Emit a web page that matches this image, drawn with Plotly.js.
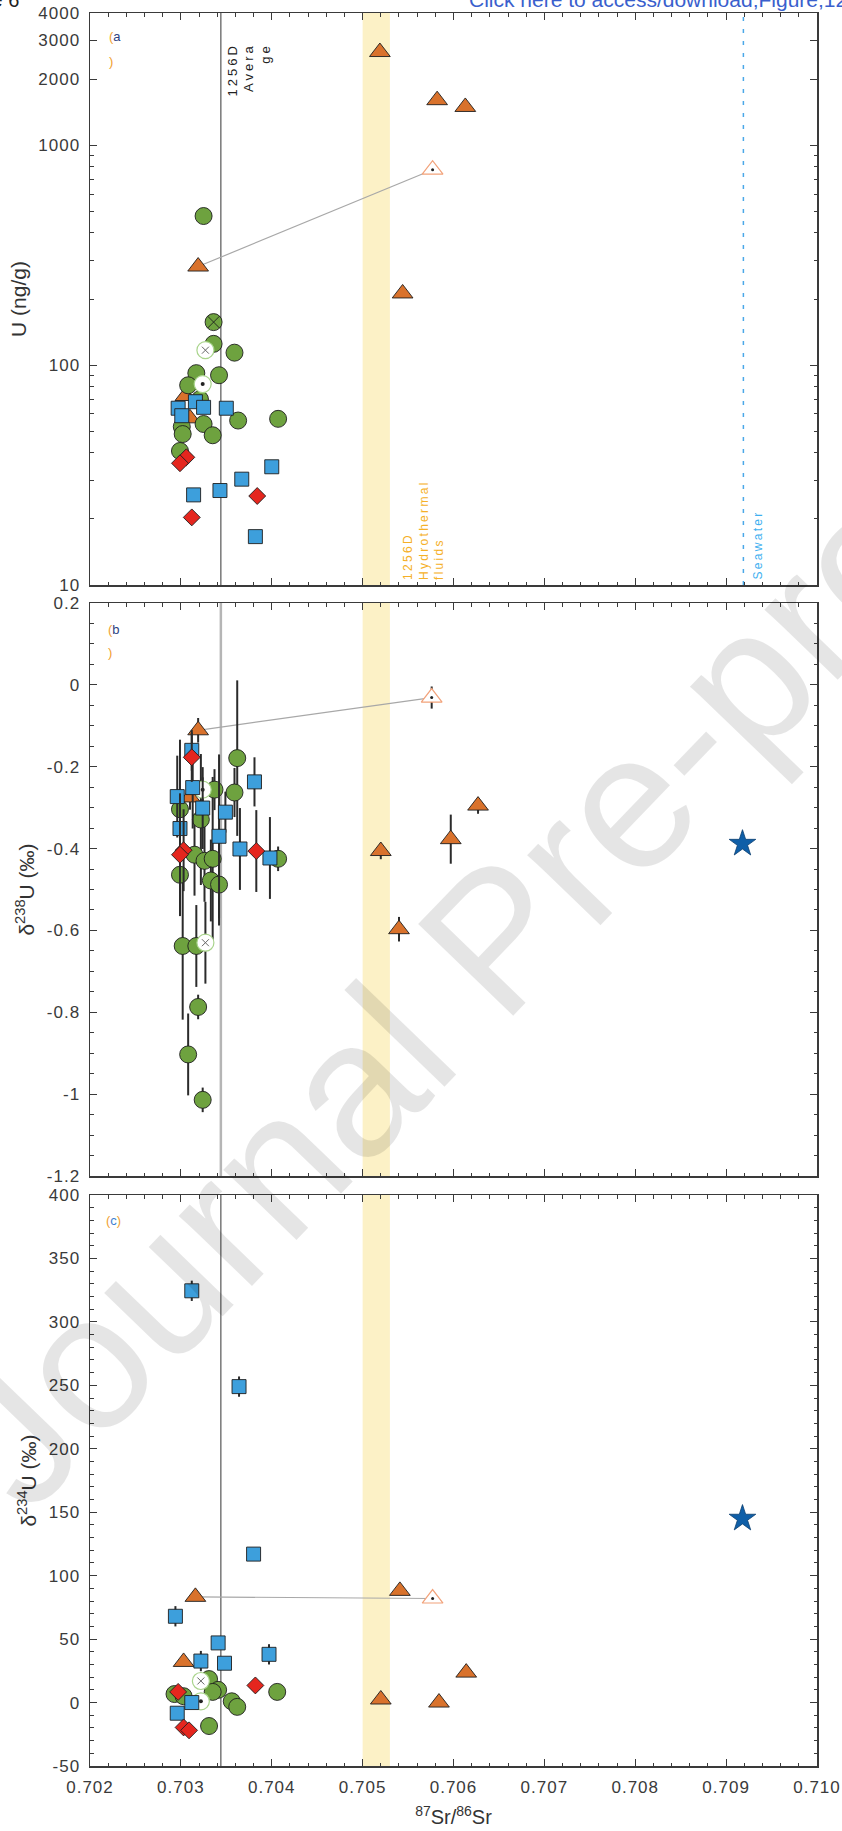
<!DOCTYPE html>
<html><head><meta charset="utf-8">
<script src="https://cdn.plot.ly/plotly-3.0.1.min.js"></script>
<style>html,body{margin:0;padding:0;background:#fff}#chart{width:842px;height:1831px}</style>
</head><body><div id="chart"></div>
<script>
// ---------- reference values ----------
const band1256DFluids = [0.7050, 0.7053];
const avg1256D = 0.70344;
const seawaterSr = 0.70919;

// ---------- panel (a): U (ng/g) ----------
const aGreenSr = [0.70325,0.70336,0.70359,0.70317,0.70342,0.70308,0.70321,0.70363,0.70407,0.70325,0.70301,0.70302,0.70335,0.70299];
const aGreenU  = [477,125,114,92,90,81,70,56,57,54,52.5,48.6,48,40.7];
const aGreenXSr = [0.70336]; const aGreenXU = [157];
const aOpenXSr = [0.70327]; const aOpenXU = [117];
const aOpenDotSr = [0.70324]; const aOpenDotU = [82];
const aDotSr = [0.70321]; const aDotU = [70];
const aBlueSr = [0.70297,0.70301,0.70316,0.70325,0.70350,0.70400,0.70367,0.70343,0.70314,0.70382];
const aBlueU  = [63.7,58.9,68.2,64.3,63.7,34.5,30.3,26.9,25.7,16.6];
const aRedSr = [0.70306,0.70299,0.70384,0.70312];
const aRedU  = [38.1,35.8,25.4,20.3];
const aOrangeSr = [0.70319,0.70305,0.70310,0.70519,0.70582,0.70613,0.70544];
const aOrangeU  = [281,72.4,57.3,2658,1605,1495,212];
const aOpenTriSr = [0.70577]; const aOpenTriU = [775];
const aTicks = [10,100,1000,2000,3000,4000];
const aMinorTicks = [20,30,40,50,60,70,80,90,200,300,400,500,600,700,800,900];

// ---------- panel (b): d238U ----------
const bGreenSr = [0.70362,0.70359,0.70337,0.70299,0.70322,0.70315,0.70326,0.70335,0.70299,0.70333,0.70342,0.70407,0.70302,0.70317,0.70319,0.70308,0.70324];
const bGreenD  = [-0.179,-0.263,-0.256,-0.304,-0.329,-0.415,-0.43,-0.425,-0.464,-0.478,-0.488,-0.425,-0.638,-0.638,-0.787,-0.903,-1.014];
const bGreenErr= [0.19,0.06,0.05,0.17,0.16,0.1,0.1,0.2,0.1,0.1,0.1,0.03,0.18,0.1,0.03,0.1,0.03];
const bBlueSr = [0.70312,0.70296,0.70299,0.70313,0.70324,0.70349,0.70342,0.70365,0.70381,0.70398];
const bBlueD  = [-0.16,-0.273,-0.351,-0.251,-0.301,-0.311,-0.370,-0.401,-0.237,-0.423];
const bBlueErr= [0.05,0.1,0.05,0.1,0.1,0.05,0.2,0.1,0.06,0.1];
const bRedSr = [0.70312,0.70303,0.70299,0.70383];
const bRedD  = [-0.177,-0.404,-0.415,-0.406];
const bRedErr= [0.06,0.1,0.15,0.1];
const bOrangeSr = [0.70319,0.70310,0.70520,0.70540,0.70597,0.70627];
const bOrangeD  = [-0.111,-0.275,-0.406,-0.597,-0.377,-0.295];
const bOrangeErr= [0.03,0.03,0.02,0.03,0.06,0.02];
const bOpenTriSr = [0.70576]; const bOpenTriD = [-0.031]; const bOpenTriErr = [0.027];
const bOpenXSr = [0.70327]; const bOpenXD = [-0.63]; const bOpenXErr = [0.1];
const bOpenDotSr = [0.70324]; const bOpenDotD = [-0.256]; const bOpenDotErr = [0.03];
const bStarSr = [0.70918]; const bStarD = [-0.388];
const bTicks = [0.2,0,-0.2,-0.4,-0.6,-0.8,-1,-1.2];

// ---------- panel (c): d234U ----------
const cBlueSr = [0.70312,0.70364,0.70380,0.70294,0.70341,0.70322,0.70348,0.70397,0.70312,0.70296];
const cBlueD  = [324.5,249,117,68,47,32.7,31,38,0,-8.4];
const cBlueErr= [8,8,3,8,3,8,3,8,3,3];
const cOrangeSr = [0.70316,0.70303,0.70520,0.70541,0.70584,0.70614];
const cOrangeD  = [83.3,32,2.4,88,0,23.6];
const cOpenTriSr = [0.70577]; const cOpenTriD = [82];
const cRedSr = [0.70297,0.70303,0.70309,0.70382];
const cRedD  = [8.4,-19.6,-21.9,13.5];
const cGreenSr = [0.70293,0.70303,0.70331,0.70341,0.70335,0.70356,0.70362,0.70406,0.70331];
const cGreenD  = [6.7,5,18.5,10,8.4,1,-3.4,8.4,-18.5];
const cOpenXSr = [0.70322]; const cOpenXD = [17];
const cOpenDotSr = [0.70322]; const cOpenDotD = [1];
const cStarSr = [0.70918]; const cStarD = [145];
const cTicks = [-50,0,50,100,150,200,250,300,350,400];

const xTicks = [0.702,0.703,0.704,0.705,0.706,0.707,0.708,0.709,0.710];

// ---------- styles ----------
const GREEN='#6ea23f', BLUE='#3d9fdc', RED='#e5261e', ORANGE='#d9722c', STAR='#0f5fa8';
const LIGHTGREEN='#a9d48c', LIGHTORANGE='#f2a27a', EDGE='#1e1e1e';
const ERR = (arr)=>({type:'data', array:arr, visible:true, color:'#2b2b2b', thickness:2, width:0});
const SZ = {circle:17, square:14, diamond:13, tri:18, star:20};

function pts(x,y,ax,opts){
  return Object.assign({x:x, y:y, xaxis:'x'+ax, yaxis:'y'+ax, mode:'markers', type:'scatter',
    hoverinfo:'skip', showlegend:false}, opts);
}
function mk(symbol,size,color,line,lw){return {symbol:symbol,size:size,color:color,line:{color:line||EDGE,width:(lw===undefined?0.9:lw)}};}
function link(x,y,ax){return {x:x,y:y,xaxis:'x'+ax,yaxis:'y'+ax,mode:'lines',type:'scatter',line:{color:'#a8a8a8',width:1.2},hoverinfo:'skip',showlegend:false};}

const traces = [
  // panel a
  link([aOrangeSr[0], aOpenTriSr[0]],[aOrangeU[0], aOpenTriU[0]], ''),
  pts(aOrangeSr,aOrangeU,'',{marker:mk('triangle-up',SZ.tri,ORANGE)}),
  pts(aGreenSr,aGreenU,'',{marker:mk('circle',SZ.circle,GREEN)}),
  pts(aGreenXSr,aGreenXU,'',{marker:mk('circle-x',SZ.circle,GREEN)}),
  pts(aOpenXSr,aOpenXU,'',{marker:mk('circle',SZ.circle,'#ffffff',LIGHTGREEN,1.2)}),
  pts(aOpenXSr,aOpenXU,'',{marker:mk('x-thin-open',7,'#666',"#666",1)}),
  pts(aOpenDotSr,aOpenDotU,'',{marker:mk('circle',SZ.circle,'#ffffff',LIGHTGREEN,1.2)}),
  pts(aOpenDotSr,aOpenDotU,'',{marker:mk('circle',4,'#222','#222',0)}),
  pts(aDotSr,aDotU,'',{marker:mk('circle',4,'#111','#111',0)}),
  pts(aBlueSr,aBlueU,'',{marker:mk('square',SZ.square,BLUE)}),
  pts(aRedSr,aRedU,'',{marker:mk('diamond',SZ.diamond,RED)}),
  pts(aOpenTriSr,aOpenTriU,'',{marker:mk('triangle-up',SZ.tri,'#ffffff',LIGHTORANGE,1.2)}),
  pts(aOpenTriSr,aOpenTriU,'',{marker:mk('circle',3,'#222','#222',0)}),
  // panel b
  link([bOrangeSr[0], bOpenTriSr[0]],[bOrangeD[0], bOpenTriD[0]], '2'),
  pts(bOrangeSr,bOrangeD,'2',{marker:mk('triangle-up',SZ.tri,ORANGE),error_y:ERR(bOrangeErr)}),
  pts(bGreenSr,bGreenD,'2',{marker:mk('circle',SZ.circle,GREEN),error_y:ERR(bGreenErr)}),
  pts(bOpenXSr,bOpenXD,'2',{marker:mk('circle',SZ.circle,'#ffffff',LIGHTGREEN,1.2),error_y:ERR(bOpenXErr)}),
  pts(bOpenXSr,bOpenXD,'2',{marker:mk('x-thin-open',7,'#666','#666',1)}),
  pts(bOpenDotSr,bOpenDotD,'2',{marker:mk('circle',SZ.circle,'#ffffff',LIGHTGREEN,1.2),error_y:ERR(bOpenDotErr)}),
  pts(bOpenDotSr,bOpenDotD,'2',{marker:mk('circle',4,'#222','#222',0)}),
  pts(bBlueSr,bBlueD,'2',{marker:mk('square',SZ.square,BLUE),error_y:ERR(bBlueErr)}),
  pts(bRedSr,bRedD,'2',{marker:mk('diamond',SZ.diamond,RED),error_y:ERR(bRedErr)}),
  pts(bOpenTriSr,bOpenTriD,'2',{marker:mk('triangle-up',SZ.tri,'#ffffff',LIGHTORANGE,1.2),error_y:ERR(bOpenTriErr)}),
  pts(bOpenTriSr,bOpenTriD,'2',{marker:mk('circle',3,'#222','#222',0)}),
  pts(bStarSr,bStarD,'2',{marker:mk('star',SZ.star,STAR,'#0b3f70',0.8)}),
  // panel c
  link([cOrangeSr[0], cOpenTriSr[0]],[cOrangeD[0], cOpenTriD[0]], '3'),
  pts(cOrangeSr,cOrangeD,'3',{marker:mk('triangle-up',SZ.tri,ORANGE)}),
  pts(cGreenSr,cGreenD,'3',{marker:mk('circle',SZ.circle,GREEN)}),
  pts(cOpenXSr,cOpenXD,'3',{marker:mk('circle',SZ.circle,'#ffffff',LIGHTGREEN,1.2)}),
  pts(cOpenXSr,cOpenXD,'3',{marker:mk('x-thin-open',7,'#666','#666',1)}),
  pts(cOpenDotSr,cOpenDotD,'3',{marker:mk('circle',SZ.circle,'#ffffff',LIGHTGREEN,1.2)}),
  pts(cOpenDotSr,cOpenDotD,'3',{marker:mk('circle',4,'#222','#222',0)}),
  pts(cBlueSr,cBlueD,'3',{marker:mk('square',SZ.square,BLUE),error_y:ERR(cBlueErr)}),
  pts(cRedSr,cRedD,'3',{marker:mk('diamond',SZ.diamond,RED)}),
  pts(cOpenTriSr,cOpenTriD,'3',{marker:mk('triangle-up',SZ.tri,'#ffffff',LIGHTORANGE,1.2)}),
  pts(cOpenTriSr,cOpenTriD,'3',{marker:mk('circle',3,'#222','#222',0)}),
  pts(cStarSr,cStarD,'3',{marker:mk('star',SZ.star,STAR,'#0b3f70',0.8)})
];

// ---------- layout ----------
const W=842,H=1831,L=90,R=25,T=13,B=65;
const PW=W-L-R, PH=H-T-B;
const px2x = p => (p-L)/PW;
const py2y = p => (H-B-p)/PH;

const AXC='#3a3a3a';
const FONT='Liberation Sans, Arial, sans-serif';
const TICKFONT={size:17, color:'#3a3a3a', family:FONT};
const TITLEFONT={size:21, color:'#333', family:FONT};
const LS = (t,ls)=>'<span style="letter-spacing:'+ls+'px">'+t+'</span>';
function xax(anchor, labels){
  return {anchor:anchor, domain:[0,1], range:[xTicks[0], xTicks[xTicks.length-1]],
    tickvals:xTicks, ticktext:xTicks.map(v=>LS(v.toFixed(3),1)), showticklabels:labels,
    ticks:'inside', ticklen:7, tickwidth:1, tickcolor:AXC,
    minor:{ticks:'inside', ticklen:3.5, tickcolor:AXC, dtick:0.0002, tick0:0.702},
    showline:true, linecolor:AXC, linewidth:1.5, mirror:'ticks', showgrid:false, zeroline:false,
    tickfont:TICKFONT, ticklabelstandoff:5};
}
function yax(anchor, domain, extra){
  return Object.assign({anchor:anchor, domain:domain, ticks:'inside', ticklen:7, tickwidth:1, tickcolor:AXC,
    showline:true, linecolor:AXC, linewidth:1.5, mirror:'ticks', showgrid:false, zeroline:false,
    tickfont:TICKFONT, ticklabelstandoff:5}, extra);
}

const layout = {
  width:W, height:H, margin:{l:L,r:R,t:T,b:B}, paper_bgcolor:'#fff', plot_bgcolor:'rgba(0,0,0,0)',
  font:{family:FONT, color:'#333'},
  xaxis: xax('y', false),
  xaxis2: xax('y2', false),
  xaxis3: Object.assign(xax('y3', true), {title:{text:'<sup>87</sup>Sr/<sup>86</sup>Sr', font:{size:20, color:'#333', family:FONT}, standoff:14}}),
  yaxis: yax('x', [py2y(585),1], {type:'log', range:[Math.log10(aTicks[0]), Math.log10(aTicks[aTicks.length-1])],
      tickvals:aTicks, ticktext:aTicks.map(v=>LS(String(v),1)),
      minor:{ticks:'inside', ticklen:3.5, tickcolor:AXC, tickmode:'array', tickvals:aMinorTicks},
      title:{text:'U (ng/g)', font:TITLEFONT, standoff:6}}),
  yaxis2: yax('x2', [py2y(1176), py2y(603)], {range:[bTicks[bTicks.length-1], bTicks[0]],
      tickvals:bTicks, ticktext:bTicks.map(v=>LS(String(v),1)),
      minor:{ticks:'inside', ticklen:3.5, tickcolor:AXC, dtick:0.05, tick0:0},
      title:{text:'δ<sup>238</sup>U (‰)', font:TITLEFONT, standoff:6}}),
  yaxis3: yax('x3', [0, py2y(1195)], {range:[cTicks[0], cTicks[cTicks.length-1]],
      tickvals:cTicks, ticktext:cTicks.map(v=>LS(String(v),1)),
      minor:{ticks:'inside', ticklen:3.5, tickcolor:AXC, dtick:10, tick0:0},
      title:{text:'δ<sup>234</sup>U (‰)', font:TITLEFONT, standoff:6}}),
  shapes: [
    {type:'rect', xref:'x', yref:'y domain', x0:band1256DFluids[0], x1:band1256DFluids[1], y0:0, y1:1, fillcolor:'#fcf1c6', line:{width:0}, layer:'below'},
    {type:'rect', xref:'x2', yref:'y2 domain', x0:band1256DFluids[0], x1:band1256DFluids[1], y0:0, y1:1, fillcolor:'#fcf1c6', line:{width:0}, layer:'below'},
    {type:'rect', xref:'x3', yref:'y3 domain', x0:band1256DFluids[0], x1:band1256DFluids[1], y0:0, y1:1, fillcolor:'#fcf1c6', line:{width:0}, layer:'below'},
    {type:'line', xref:'x', yref:'y domain', x0:avg1256D, x1:avg1256D, y0:0, y1:1, line:{color:'#555', width:1.2}, layer:'below'},
    {type:'line', xref:'x2', yref:'y2 domain', x0:avg1256D, x1:avg1256D, y0:0, y1:1, line:{color:'#b5b5b5', width:2.5}, layer:'below'},
    {type:'line', xref:'x3', yref:'y3 domain', x0:avg1256D, x1:avg1256D, y0:0, y1:1, line:{color:'#555', width:1.2}, layer:'below'},
    {type:'line', xref:'x', yref:'y domain', x0:seawaterSr, x1:seawaterSr, y0:0, y1:1, line:{color:'#4aa8e8', width:1.5, dash:'4px,8px'}, layer:'below'}
  ],
  annotations: [
    {xref:'paper', yref:'paper', x:px2x(107), y:py2y(36), xanchor:'left', yanchor:'middle', showarrow:false,
     text:'<span style="color:#f0a030">(</span><span style="color:#2e3f80">a</span>', font:{size:13}},
    {xref:'paper', yref:'paper', x:px2x(107), y:py2y(62), xanchor:'left', yanchor:'middle', showarrow:false,
     text:'<span style="color:#f0a030">)</span>', font:{size:13}},
    {xref:'paper', yref:'paper', x:px2x(106), y:py2y(629), xanchor:'left', yanchor:'middle', showarrow:false,
     text:'<span style="color:#f0a030">(</span><span style="color:#2e3f80">b</span>', font:{size:13}},
    {xref:'paper', yref:'paper', x:px2x(106), y:py2y(652), xanchor:'left', yanchor:'middle', showarrow:false,
     text:'<span style="color:#f0a030">)</span>', font:{size:13}},
    {xref:'paper', yref:'paper', x:px2x(104), y:py2y(1220), xanchor:'left', yanchor:'middle', showarrow:false,
     text:'<span style="color:#f0a030">(</span><span style="color:#3d7fd0">c</span><span style="color:#f0a030">)</span>', font:{size:13}},
    {xref:'paper', yref:'paper', x:px2x(249), y:py2y(42), xanchor:'center', yanchor:'top', showarrow:false, align:'right', textangle:-90,
     text:LS('1256D',3)+'<br>'+LS('Avera',3)+'<br>'+LS('ge',3), font:{size:13, color:'#222'}},
    {xref:'paper', yref:'paper', x:px2x(423), y:py2y(582), xanchor:'center', yanchor:'bottom', showarrow:false, align:'left', textangle:-90,
     text:LS('1256D',2.3)+'<br>'+LS('Hydrothermal',2.3)+'<br>'+LS('fluids',2.3), font:{size:12, color:'#f5b027'}},
    {xref:'paper', yref:'paper', x:px2x(757), y:py2y(582), xanchor:'center', yanchor:'bottom', showarrow:false, align:'left', textangle:-90,
     text:LS('Seawater',2.3), font:{size:12, color:'#3fb0f0'}},
    {xref:'paper', yref:'paper', x:px2x(467), y:py2y(0), xanchor:'left', yanchor:'middle', showarrow:false,
     text:'Click here to access/download;Figure;1256D_Figure6.pdf', font:{size:21, color:'#3a5fcd'}},
    {xref:'paper', yref:'paper', x:px2x(21), y:py2y(0), xanchor:'right', yanchor:'middle', showarrow:false,
     text:'Figure 6', font:{size:20, color:'#222'}},
    {xref:'paper', yref:'paper', x:px2x(495), y:py2y(938), xanchor:'center', yanchor:'middle', showarrow:false, textangle:-46,
     text:'Journal Pre-proof', font:{size:192, color:'rgba(0,0,0,0.1)', family:FONT}}
  ]
};

Plotly.newPlot('chart', traces, layout, {displayModeBar:false, staticPlot:true});
</script></body></html>
